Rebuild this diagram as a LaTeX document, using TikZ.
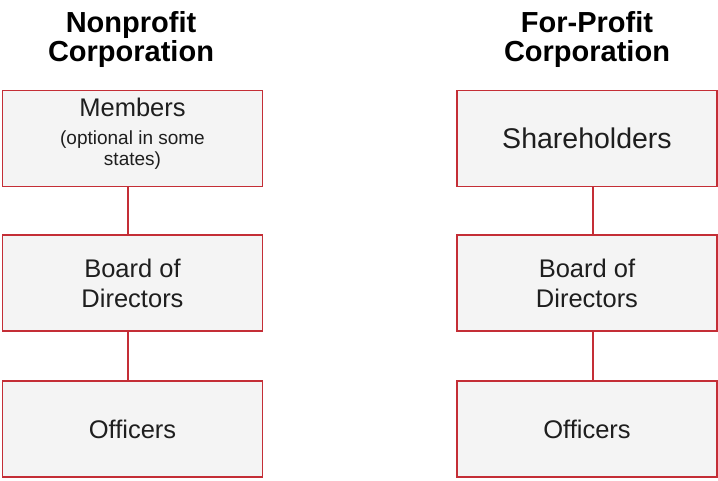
\documentclass[tikz,border=0pt]{standalone}
\usepackage{fontspec}
\setmainfont{Liberation Sans}
\definecolor{boxred}{RGB}{196,46,54}
\definecolor{boxfill}{RGB}{244,244,244}
\definecolor{boxtext}{RGB}{30,30,30}
\begin{document}
\begin{tikzpicture}[x=1pt,y=-1pt,
    orgbox/.style={draw=boxred,fill=boxfill,line width=1.2pt,inner sep=0pt,
      minimum width=260pt,minimum height=96pt,align=center,text=boxtext,
      font=\fontsize{25.5}{30}\selectfont},
    coltitle/.style={align=center,font=\bfseries\fontsize{29}{29}\selectfont},
    link/.style={draw=boxred,line width=1.2pt}]
    \useasboundingbox (0,0) rectangle (718,481);
    % nonprofit
    \node[coltitle] (NT) at (131,40) {Nonprofit\\Corporation};
    \node[orgbox,text depth=13pt] (NM) at (132.5,138.3) {Members\\[-2pt]\fontsize{19}{21}\selectfont (optional in some\\[-9pt]\fontsize{19}{21}\selectfont states)};
    \node[orgbox] (NB) at (132.5,283) {Board of\\Directors};
    \node[orgbox] (NO) at (132.5,429) {Officers};
    \draw[link] ([xshift=-4.5pt]NM.south) -- ([xshift=-4.5pt]NB.north);
    \draw[link] ([xshift=-4.5pt]NB.south) -- ([xshift=-4.5pt]NO.north);
    % for-profit
    \node[coltitle] (FT) at (587,40) {For-Profit\\Corporation};
    \node[orgbox,font=\fontsize{28.5}{32}\selectfont] (FS) at (587,138.3) {Shareholders};
    \node[orgbox] (FB) at (587,283) {Board of\\Directors};
    \node[orgbox] (FO) at (587,429) {Officers};
    \draw[link] ([xshift=6pt]FS.south) -- ([xshift=6pt]FB.north);
    \draw[link] ([xshift=6pt]FB.south) -- ([xshift=6pt]FO.north);
\end{tikzpicture}
\end{document}
